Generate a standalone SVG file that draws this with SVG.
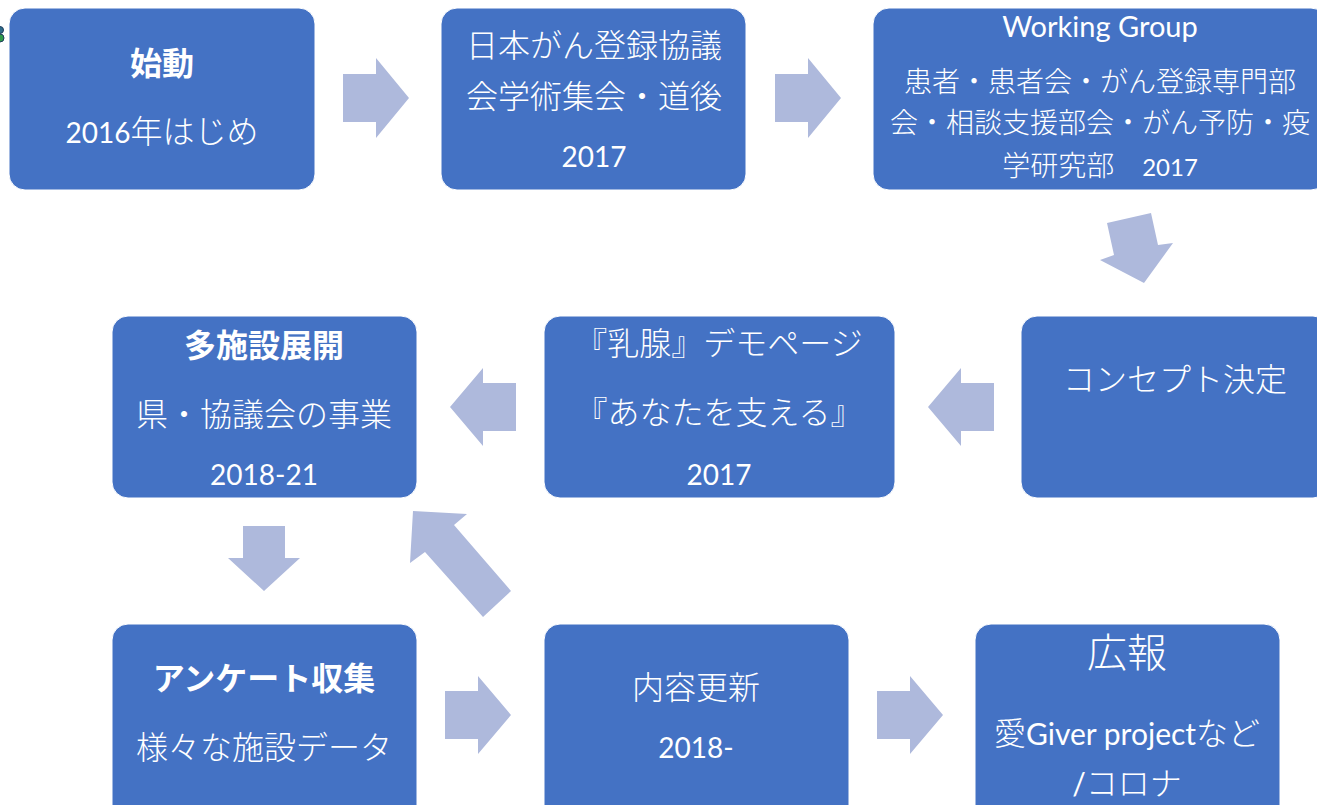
<svg xmlns="http://www.w3.org/2000/svg" width="1317" height="805" viewBox="0 0 1317 805">
<style>
.box{fill:#4472C4;stroke:#ffffff;stroke-width:1}
.arr{fill:#AEB9DC}
text{fill:#ffffff;text-anchor:middle;font-family:Lato,"Noto Sans CJK JP",sans-serif}
.jp{font-family:"Noto Sans CJK JP",sans-serif;font-size:32px;font-weight:300}
.jp28{font-family:"Noto Sans CJK JP",sans-serif;font-size:28px;font-weight:300}
.bold{font-family:"Noto Sans CJK JP",sans-serif;font-size:32px;font-weight:700}
.lat{font-family:Lato,sans-serif;font-size:28px;font-weight:400}
</style>
<rect width="1317" height="805" fill="#ffffff"/>
<g id="corner-mark">
<circle cx="0" cy="30" r="3.5" fill="#2E6B8A" stroke="#1F3D5C" stroke-width="1"/>
<circle cx="0" cy="38" r="4" fill="#2E9A4A" stroke="#1F3D5C" stroke-width="1"/>
</g>
<g id="connectors">
<polygon class="arr" points="343,74 376,74 376,58 409,98 376,138 376,122 343,122"/>
<polygon class="arr" points="775,74 808,74 808,58 841,98 808,138 808,122 775,122"/>
<polygon class="arr" points="1107,223 1151,213 1158,245 1173,243 1144,283 1100,260 1114,255"/>
<polygon class="arr" points="994,383 961,383 961,368 928,407 961,446 961,431 994,431"/>
<polygon class="arr" points="516,383 483,383 483,368 450,407 483,446 483,431 516,431"/>
<polygon class="arr" points="243,526 285,526 285,558 300,558 264,591 228,558 243,558"/>
<polygon class="arr" points="413,511 467,514 454,525 511,591 483,617 425,552 410,563"/>
<polygon class="arr" points="445,691 478,691 478,676 511,715 478,754 478,739 445,739"/>
<polygon class="arr" points="877,691 910,691 910,676 943,715 910,754 910,739 877,739"/>
</g>
<g id="n1">
<rect class="box" x="9" y="8" width="306" height="182" rx="16"/>
<text class="bold" x="162" y="75">始動</text>
<text x="162" y="143"><tspan class="lat">2016</tspan><tspan class="jp">年はじめ</tspan></text>
</g>
<g id="n2">
<rect class="box" x="441" y="8" width="305" height="182" rx="16"/>
<text class="jp" x="594" y="57">日本がん登録協議</text>
<text class="jp" x="594" y="108">会学術集会・道後</text>
<text class="lat" x="594" y="167">2017</text>
</g>
<g id="n3">
<rect class="box" x="873" y="8" width="454" height="182" rx="16"/>
<text class="lat" x="1100" y="37" style="font-size:29px">Working Group</text>
<text class="jp28" x="1100" y="92">患者・患者会・がん登録専門部</text>
<text class="jp28" x="1100" y="133">会・相談支援部会・がん予防・疫</text>
<text x="1100" y="176"><tspan class="jp28">学研究部　</tspan><tspan class="lat" style="font-size:24px">2017</tspan></text>
</g>
<g id="n4">
<rect class="box" x="1021" y="316" width="308" height="182" rx="16"/>
<text class="jp" x="1175" y="391">コンセプト決定</text>
</g>
<g id="n5">
<rect class="box" x="544" y="316" width="351" height="182" rx="16"/>
<text class="jp" x="719" y="355">『乳腺』デモページ</text>
<text class="jp" x="719" y="424">『あなたを支える』</text>
<text class="lat" x="719" y="485">2017</text>
</g>
<g id="n6">
<rect class="box" x="112" y="316" width="305" height="182" rx="16"/>
<text class="bold" x="264" y="357">多施設展開</text>
<text class="jp" x="264" y="426">県・協議会の事業</text>
<text class="lat" x="264" y="485">2018-21</text>
</g>
<g id="n7">
<rect class="box" x="112" y="624" width="305" height="200" rx="16"/>
<text class="bold" x="264" y="690">アンケート収集</text>
<text class="jp" x="264" y="759">様々な施設データ</text>
</g>
<g id="n8">
<rect class="box" x="544" y="624" width="305" height="200" rx="16"/>
<text class="jp" x="696" y="699">内容更新</text>
<text class="lat" x="696" y="758">2018-</text>
</g>
<g id="n9">
<rect class="box" x="975" y="624" width="305" height="200" rx="16"/>
<text class="jp" x="1127" y="667" style="font-size:40px">広報</text>
<text x="1127" y="745"><tspan class="jp">愛</tspan><tspan class="lat" style="font-size:30px">Giver project</tspan><tspan class="jp">など</tspan></text>
<text x="1127" y="795"><tspan class="lat" style="font-size:30px">/</tspan><tspan class="jp">コロナ</tspan></text>
</g>
</svg>
